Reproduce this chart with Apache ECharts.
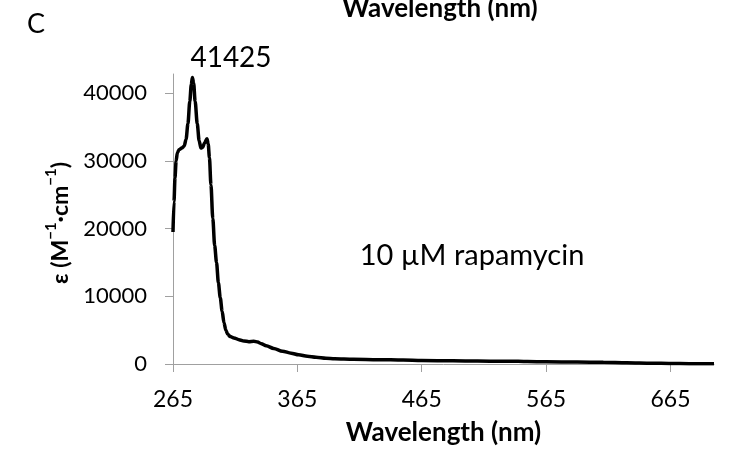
<!DOCTYPE html>
<html>
<head>
<meta charset="utf-8">
<script src="https://cdn.jsdelivr.net/npm/echarts@6/dist/echarts.min.js"></script>
<style>html,body{margin:0;padding:0;background:#fff}#c{width:737px;height:452px}</style>
</head>
<body>
<div id="c"></div>
<script>
// Wavelength (nm)
var wavelengths = [265, 265.8, 266.6, 267.5, 268.5, 270, 272, 274, 275.5, 277, 278.5, 279.7, 280.6, 281.6, 282.8, 284.5, 286, 287.5, 288.8, 290.5, 292.3, 293.3, 294.3, 295.5, 297, 298.5, 300, 301.5, 303, 304.5, 306, 307.5, 309, 311, 314, 318, 322, 326, 330, 333, 336, 340, 346, 353, 360, 366, 373, 380, 388, 395, 410, 430, 450, 465, 490, 510, 530, 535, 550, 565, 590, 611, 630, 650, 665, 680, 700];
// Molar absorptivity ε (M^-1 cm^-1)
var epsilon = [19500, 24000, 27500, 30000, 31200, 31700, 31900, 32200, 33200, 35500, 38800, 41300, 42350, 41500, 38800, 35500, 33000, 31900, 32000, 32700, 33300, 32500, 30500, 26500, 21500, 17500, 15000, 12000, 9800, 7800, 6100, 5000, 4400, 4050, 3850, 3600, 3400, 3300, 3350, 3250, 3000, 2700, 2300, 1900, 1600, 1350, 1150, 1000, 850, 760, 690, 640, 580, 520, 470, 430, 390, 420, 360, 330, 280, 250, 190, 120, 80, 50, 20];
var xTicks = [265, 365, 465, 565, 665];
var yTicks = [0, 10000, 20000, 30000, 40000];
var peakLabel = '41425';
var sampleLabel = '10 µM rapamycin';

var points = wavelengths.map(function (w, i) { return [w, epsilon[i]]; });
var FONT = 'Lato';
var axisGray = '#a0a0a0';

var chart = echarts.init(document.getElementById('c'), null, {renderer: 'canvas'});
chart.setOption({
  animation: false,
  backgroundColor: '#fff',
  grid: {left: 173, right: 23, top: 74, bottom: 88, containLabel: false},
  xAxis: {
    type: 'value', min: 265, max: 700,
    axisLine: {show: true, lineStyle: {color: axisGray, width: 1}},
    axisTick: {show: true, inside: false, length: 8, lineStyle: {color: axisGray}, customValues: xTicks},
    axisLabel: {show: true, customValues: xTicks, margin: 24, color: '#000', fontFamily: FONT, fontSize: 23,
      formatter: function (v) { return String(v); }},
    splitLine: {show: false},
    name: 'Wavelength (nm)', nameLocation: 'middle', nameGap: 56,
    nameTextStyle: {color: '#000', fontFamily: FONT, fontWeight: 'bold', fontSize: 26}
  },
  yAxis: {
    type: 'value', min: 0, max: 42850,
    axisLine: {show: true, lineStyle: {color: axisGray, width: 1}},
    axisTick: {show: true, inside: false, length: 8, lineStyle: {color: axisGray}, customValues: yTicks},
    axisLabel: {show: true, customValues: yTicks, margin: 26, color: '#000', fontFamily: FONT, fontSize: 22,
      formatter: function (v) { return String(v); }},
    splitLine: {show: false}
  },
  series: [{
    type: 'line', data: points, showSymbol: false, symbol: 'none',
    smooth: 0.3, smoothMonotone: 'x',
    lineStyle: {color: '#000', width: 3.5},
    z: 5
  }],
  graphic: [
    {type: 'text', left: 27, top: 11, style: {text: 'C', font: '27px ' + FONT, fill: '#000'}},
    {type: 'text', x: 440, y: 22, style: {text: 'Wavelength (nm)', font: 'bold 26px ' + FONT, fill: '#000', textAlign: 'center', textVerticalAlign: 'bottom'}},
    {type: 'text', x: 231, y: 58, style: {text: peakLabel, font: '28px ' + FONT, fill: '#000', textAlign: 'center', textVerticalAlign: 'middle'}},
    {type: 'text', x: 472, y: 256, style: {text: sampleLabel, font: '29px ' + FONT, fill: '#000', textAlign: 'center', textVerticalAlign: 'middle'}},
    {type: 'text', x: 58, y: 223, rotation: Math.PI / 2, style: {
      text: '{b|ε (M}{s|−1}{b|·cm}{s|−1}{b|)}',
      textAlign: 'center', textVerticalAlign: 'middle', fill: '#000',
      rich: {
        b: {fontFamily: FONT, fontWeight: 'bold', fontSize: 23, fill: '#000', lineHeight: 28, verticalAlign: 'bottom'},
        s: {fontFamily: FONT, fontWeight: 'bold', fontSize: 15, fill: '#000', lineHeight: 28, verticalAlign: 'top', padding: [0, 0, 8, 0]}
      }
    }}
  ]
});
</script>
</body>
</html>
